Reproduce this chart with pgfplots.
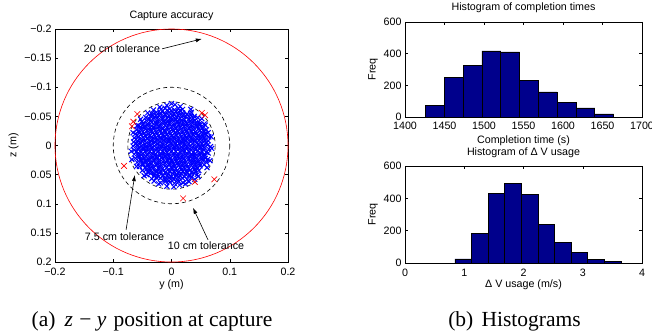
\documentclass[border=0pt]{standalone}
\usepackage{fontspec}
\setmainfont{Liberation Sans}
\newfontfamily\capfont{Liberation Serif}
\usepackage{pgfplots}
\pgfplotsset{compat=1.18}
\usetikzlibrary{arrows.meta}
\definecolor{histblue}{RGB}{0,0,140}
\newcommand{\pf}{\fontsize{10.7}{12}\selectfont}
\pgfplotsset{
  matstyle/.style={
    scale only axis,
    anchor=south west,
    axis line style={black, line width=0.9pt},
    tick align=inside,
    major tick length=3pt,
    tick style={black, line width=0.5pt},
    every tick label/.append style={font=\pf},
    label style={font=\pf},
    every axis title/.style={font=\pf, anchor=base},
    /pgf/number format/assume math mode=true,
    /pgf/number format/1000 sep={},
  }
}
\begin{document}
\begin{tikzpicture}
\path[use as bounding box] (0,0) rectangle (652pt,333pt);

% ---------------- left: capture accuracy ----------------
\begin{axis}[matstyle, at={(55pt,71pt)}, width=233pt, height=233pt,
  xmin=-0.2, xmax=0.2, ymin=-0.2, ymax=0.2, y dir=reverse, clip=false,
  xtick={-0.2,-0.1,0,0.1,0.2}, xticklabels={−0.2,−0.1,0,0.1,0.2},
  ytick={-0.2,-0.15,-0.1,-0.05,0,0.05,0.1,0.15,0.2},
  yticklabels={−0.2,−0.15,−0.1,−0.05,0,0.05,0.1,0.15,0.2},
  xticklabel style={anchor=base, yshift=-13.5pt},
  title={Capture accuracy}, title style={at={(axis description cs:0.5,1.043)}},
  xlabel={y (m)}, xlabel style={at={(axis description cs:0.5,-0.11)}, anchor=base},
  ylabel={z (m)}, ylabel style={at={(axis description cs:-0.178,0.5)}, anchor=center},
]
\addplot[only marks, mark=x, mark size=3.5pt, blue, mark options={line width=1pt}] coordinates {
(-0.018,-0.062) (-0.011,-0.064) (-0.003,-0.063) (0.005,-0.061) (0.012,-0.064) (0.019,-0.062)
(-0.008,-0.069) (0.006,-0.070) (0.015,-0.067) (-0.020,-0.066) (0.000,-0.072)
(-0.034,-0.055) (-0.026,-0.057) (-0.019,-0.056) (-0.011,-0.054) (-0.004,-0.057) (0.004,-0.055) (0.012,-0.058) (0.019,-0.056) (0.027,-0.054) (0.034,-0.057)
(-0.044,-0.048) (-0.036,-0.050) (-0.029,-0.049) (-0.021,-0.051) (-0.014,-0.047) (-0.006,-0.049) (0.002,-0.050) (0.009,-0.048) (0.017,-0.050) (0.024,-0.049) (0.032,-0.047) (0.039,-0.050) (0.045,-0.048)
(-0.051,-0.041) (-0.043,-0.043) (-0.036,-0.042) (-0.028,-0.040) (-0.021,-0.043) (-0.013,-0.041) (-0.006,-0.042) (0.002,-0.044) (0.010,-0.041) (0.017,-0.043) (0.025,-0.040) (0.032,-0.042) (0.040,-0.043) (0.047,-0.041)
(-0.056,-0.034) (-0.049,-0.036) (-0.041,-0.035) (-0.034,-0.033) (-0.026,-0.036) (-0.019,-0.034) (-0.011,-0.035) (-0.004,-0.037) (0.004,-0.034) (0.012,-0.036) (0.019,-0.035) (0.027,-0.033) (0.034,-0.036) (0.042,-0.034) (0.049,-0.035) (0.056,-0.037)
(-0.060,-0.027) (-0.052,-0.029) (-0.045,-0.028) (-0.037,-0.026) (-0.030,-0.029) (-0.022,-0.027) (-0.015,-0.028) (-0.007,-0.030) (0.001,-0.027) (0.008,-0.029) (0.016,-0.028) (0.023,-0.026) (0.031,-0.029) (0.038,-0.027) (0.046,-0.028) (0.053,-0.030) (0.060,-0.027)
(-0.062,-0.020) (-0.055,-0.022) (-0.047,-0.021) (-0.040,-0.019) (-0.032,-0.022) (-0.025,-0.020) (-0.017,-0.021) (-0.010,-0.023) (-0.002,-0.020) (0.006,-0.022) (0.013,-0.021) (0.021,-0.019) (0.028,-0.022) (0.036,-0.020) (0.043,-0.021) (0.051,-0.023) (0.058,-0.020) (0.063,-0.022)
(-0.064,-0.013) (-0.057,-0.015) (-0.049,-0.014) (-0.042,-0.012) (-0.034,-0.015) (-0.027,-0.013) (-0.019,-0.014) (-0.012,-0.016) (-0.004,-0.013) (0.004,-0.015) (0.011,-0.014) (0.019,-0.012) (0.026,-0.015) (0.034,-0.013) (0.041,-0.014) (0.049,-0.016) (0.056,-0.013) (0.064,-0.015)
(-0.065,-0.006) (-0.058,-0.008) (-0.050,-0.007) (-0.043,-0.005) (-0.035,-0.008) (-0.028,-0.006) (-0.020,-0.007) (-0.013,-0.009) (-0.005,-0.006) (0.003,-0.008) (0.010,-0.007) (0.018,-0.005) (0.025,-0.008) (0.033,-0.006) (0.040,-0.007) (0.048,-0.009) (0.055,-0.006) (0.063,-0.008)
(-0.066,0.001) (-0.059,-0.001) (-0.051,0.000) (-0.044,0.002) (-0.036,-0.001) (-0.029,0.001) (-0.021,0.000) (-0.014,-0.002) (-0.006,0.001) (0.002,-0.001) (0.009,0.000) (0.017,0.002) (0.024,-0.001) (0.032,0.001) (0.039,0.000) (0.047,-0.002) (0.054,0.001) (0.062,-0.001) (0.067,0.002)
(-0.064,0.008) (-0.057,0.006) (-0.049,0.007) (-0.042,0.009) (-0.034,0.006) (-0.027,0.008) (-0.019,0.007) (-0.012,0.005) (-0.004,0.008) (0.004,0.006) (0.011,0.007) (0.019,0.009) (0.026,0.006) (0.034,0.008) (0.041,0.007) (0.049,0.005) (0.056,0.008) (0.064,0.006)
(-0.064,0.015) (-0.057,0.013) (-0.049,0.014) (-0.042,0.016) (-0.034,0.013) (-0.027,0.015) (-0.019,0.014) (-0.012,0.012) (-0.004,0.015) (0.004,0.013) (0.011,0.014) (0.019,0.016) (0.026,0.013) (0.034,0.015) (0.041,0.014) (0.049,0.012) (0.056,0.015) (0.063,0.013)
(-0.062,0.022) (-0.055,0.020) (-0.047,0.021) (-0.040,0.023) (-0.032,0.020) (-0.025,0.022) (-0.017,0.021) (-0.010,0.019) (-0.002,0.022) (0.006,0.020) (0.013,0.021) (0.021,0.023) (0.028,0.020) (0.036,0.022) (0.043,0.021) (0.051,0.019) (0.058,0.022) (0.062,0.024)
(-0.059,0.029) (-0.052,0.027) (-0.045,0.028) (-0.037,0.030) (-0.030,0.027) (-0.022,0.029) (-0.015,0.028) (-0.007,0.026) (0.001,0.029) (0.008,0.027) (0.016,0.028) (0.023,0.030) (0.031,0.027) (0.038,0.029) (0.046,0.028) (0.053,0.026) (0.060,0.029)
(-0.055,0.036) (-0.049,0.034) (-0.041,0.035) (-0.034,0.037) (-0.026,0.034) (-0.019,0.036) (-0.011,0.035) (-0.004,0.033) (0.004,0.036) (0.012,0.034) (0.019,0.035) (0.027,0.037) (0.034,0.034) (0.042,0.036) (0.049,0.035) (0.056,0.033)
(-0.050,0.043) (-0.043,0.041) (-0.036,0.042) (-0.028,0.044) (-0.021,0.041) (-0.013,0.043) (-0.006,0.042) (0.002,0.040) (0.010,0.043) (0.017,0.041) (0.025,0.044) (0.032,0.042) (0.040,0.041) (0.047,0.043)
(-0.043,0.050) (-0.036,0.048) (-0.029,0.049) (-0.021,0.047) (-0.014,0.051) (-0.006,0.049) (0.002,0.048) (0.009,0.050) (0.017,0.048) (0.024,0.049) (0.032,0.051) (0.039,0.048) (0.044,0.050)
(-0.034,0.057) (-0.026,0.055) (-0.019,0.056) (-0.011,0.058) (-0.004,0.055) (0.004,0.057) (0.012,0.054) (0.019,0.056) (0.027,0.058) (0.034,0.055)
(-0.019,0.064) (-0.011,0.062) (-0.003,0.063) (0.005,0.065) (0.012,0.062) (0.020,0.064)
(-0.008,0.070) (0.004,0.071) (0.014,0.068) (0.024,0.066) (-0.022,0.066) (0.030,0.062) (-0.030,0.061)
(0.069,0.005) (0.068,-0.015) (-0.069,0.010) (-0.068,0.024) (-0.066,-0.022) (0.066,0.026) (0.061,0.038) (-0.060,0.036) (0.052,-0.046) (-0.053,-0.045) (0.046,0.053) (-0.047,0.052) (0.033,-0.062) (-0.031,-0.061) (0.040,0.058) (-0.041,-0.056) (0.058,-0.035) (-0.059,-0.034)
(-0.015,-0.0595) (-0.0075,-0.0605) (0,-0.0595) (0.0075,-0.0585) (0.015,-0.0595)
(-0.033,-0.0525) (-0.026,-0.0515) (-0.019,-0.0535) (-0.011,-0.0525) (-0.004,-0.0515) (0.004,-0.0535) (0.011,-0.0525) (0.019,-0.0515) (0.026,-0.0535) (0.033,-0.0525)
(-0.0375,-0.0455) (-0.030,-0.0465) (-0.0225,-0.0445) (-0.015,-0.0455) (-0.0075,-0.0465) (0,-0.0445) (0.0075,-0.0455) (0.015,-0.0465) (0.0225,-0.0445) (0.030,-0.0455) (0.0375,-0.0465)
(-0.048,-0.0385) (-0.041,-0.0375) (-0.034,-0.0395) (-0.026,-0.0385) (-0.019,-0.0375) (-0.011,-0.0395) (-0.004,-0.0385) (0.004,-0.0375) (0.011,-0.0395) (0.019,-0.0385) (0.026,-0.0375) (0.034,-0.0395) (0.041,-0.0385) (0.048,-0.0375)
(-0.0525,-0.0315) (-0.045,-0.0325) (-0.0375,-0.0305) (-0.030,-0.0315) (-0.0225,-0.0325) (-0.015,-0.0305) (-0.0075,-0.0315) (0,-0.0325) (0.0075,-0.0305) (0.015,-0.0315) (0.0225,-0.0325) (0.030,-0.0305) (0.0375,-0.0315) (0.045,-0.0325) (0.0525,-0.0305)
(-0.056,-0.0245) (-0.049,-0.0235) (-0.041,-0.0255) (-0.034,-0.0245) (-0.026,-0.0235) (-0.019,-0.0255) (-0.011,-0.0245) (-0.004,-0.0235) (0.004,-0.0255) (0.011,-0.0245) (0.019,-0.0235) (0.026,-0.0255) (0.034,-0.0245) (0.041,-0.0235) (0.049,-0.0255) (0.056,-0.0245)
(-0.059,-0.0175) (-0.0525,-0.0185) (-0.045,-0.0165) (-0.0375,-0.0175) (-0.030,-0.0185) (-0.0225,-0.0165) (-0.015,-0.0175) (-0.0075,-0.0185) (0,-0.0165) (0.0075,-0.0175) (0.015,-0.0185) (0.0225,-0.0165) (0.030,-0.0175) (0.0375,-0.0185) (0.045,-0.0165) (0.0525,-0.0175) (0.059,-0.0185)
(-0.056,-0.0105) (-0.049,-0.0095) (-0.041,-0.0115) (-0.034,-0.0105) (-0.026,-0.0095) (-0.019,-0.0115) (-0.011,-0.0105) (-0.004,-0.0095) (0.004,-0.0115) (0.011,-0.0105) (0.019,-0.0095) (0.026,-0.0115) (0.034,-0.0105) (0.041,-0.0095) (0.049,-0.0115) (0.056,-0.0105)
(-0.060,-0.0035) (-0.0525,-0.0045) (-0.045,-0.0025) (-0.0375,-0.0035) (-0.030,-0.0045) (-0.0225,-0.0025) (-0.015,-0.0035) (-0.0075,-0.0045) (0,-0.0025) (0.0075,-0.0035) (0.015,-0.0045) (0.0225,-0.0025) (0.030,-0.0035) (0.0375,-0.0045) (0.045,-0.0025) (0.0525,-0.0035) (0.060,-0.0045)
(-0.056,0.0035) (-0.049,0.0045) (-0.041,0.0025) (-0.034,0.0035) (-0.026,0.0045) (-0.019,0.0025) (-0.011,0.0035) (-0.004,0.0045) (0.004,0.0025) (0.011,0.0035) (0.019,0.0045) (0.026,0.0025) (0.034,0.0035) (0.041,0.0045) (0.049,0.0025) (0.056,0.0035)
(-0.060,0.0105) (-0.0525,0.0115) (-0.045,0.0095) (-0.0375,0.0105) (-0.030,0.0115) (-0.0225,0.0095) (-0.015,0.0105) (-0.0075,0.0115) (0,0.0095) (0.0075,0.0105) (0.015,0.0115) (0.0225,0.0095) (0.030,0.0105) (0.0375,0.0115) (0.045,0.0095) (0.0525,0.0105) (0.060,0.0115)
(-0.056,0.0175) (-0.049,0.0185) (-0.041,0.0165) (-0.034,0.0175) (-0.026,0.0185) (-0.019,0.0165) (-0.011,0.0175) (-0.004,0.0185) (0.004,0.0165) (0.011,0.0175) (0.019,0.0185) (0.026,0.0165) (0.034,0.0175) (0.041,0.0185) (0.049,0.0165) (0.056,0.0175)
(-0.0525,0.0245) (-0.045,0.0255) (-0.0375,0.0235) (-0.030,0.0245) (-0.0225,0.0255) (-0.015,0.0235) (-0.0075,0.0245) (0,0.0255) (0.0075,0.0235) (0.015,0.0245) (0.0225,0.0255) (0.030,0.0235) (0.0375,0.0245) (0.045,0.0255) (0.0525,0.0235)
(-0.049,0.0315) (-0.041,0.0325) (-0.034,0.0305) (-0.026,0.0315) (-0.019,0.0325) (-0.011,0.0305) (-0.004,0.0315) (0.004,0.0325) (0.011,0.0305) (0.019,0.0315) (0.026,0.0325) (0.034,0.0305) (0.041,0.0315) (0.049,0.0325)
(-0.045,0.0385) (-0.0375,0.0395) (-0.030,0.0375) (-0.0225,0.0385) (-0.015,0.0395) (-0.0075,0.0375) (0,0.0385) (0.0075,0.0395) (0.015,0.0375) (0.0225,0.0385) (0.030,0.0395) (0.0375,0.0375) (0.045,0.0385)
(-0.041,0.0455) (-0.034,0.0465) (-0.026,0.0445) (-0.019,0.0455) (-0.011,0.0465) (-0.004,0.0445) (0.004,0.0455) (0.011,0.0465) (0.019,0.0445) (0.026,0.0455) (0.034,0.0465) (0.041,0.0445)
(-0.030,0.0525) (-0.0225,0.0535) (-0.015,0.0515) (-0.0075,0.0525) (0,0.0535) (0.0075,0.0515) (0.015,0.0525) (0.0225,0.0535) (0.030,0.0515)
(-0.011,0.0595) (-0.004,0.0605) (0.004,0.0585) (0.011,0.0595)
};
\draw[red, line width=0.6pt] (axis cs:0,0) circle [radius=0.2];
\draw[black, line width=0.6pt, dash pattern=on 4pt off 3pt] (axis cs:0,0) circle [radius=0.075];
\draw[black, line width=0.6pt, dash pattern=on 4pt off 3pt] (axis cs:0,0) circle [radius=0.1];
\addplot[only marks, mark=x, mark size=4pt, red, mark options={line width=0.6pt}] coordinates {
(-0.0587,-0.054) (-0.0656,-0.041) (-0.068,-0.033) (0.052,-0.056) (0.0576,-0.052)
(-0.0815,0.035) (0.040,0.0626) (0.0735,0.058) (0.020,0.0907)
};
\draw[-{Latex[length=6pt,width=4pt]}, line width=0.6pt] (axis cs:-0.016,-0.166) -- (axis cs:0.052,-0.183);
\draw[-{Latex[length=6pt,width=4pt]}, line width=0.6pt] (axis cs:-0.078,0.145) -- (axis cs:-0.063,0.0507);
\draw[-{Latex[length=6pt,width=4pt]}, line width=0.6pt] (axis cs:0.0627,0.162) -- (axis cs:0.037,0.107);
\node[font=\pf, inner sep=0] at (axis cs:-0.085,-0.167) {20 cm tolerance};
\node[font=\pf, inner sep=0] at (axis cs:-0.0807,0.157) {7.5 cm tolerance};
\node[font=\pf, inner sep=0] at (axis cs:0.0593,0.1726) {10 cm tolerance};
\end{axis}

% ---------------- top right: completion times ----------------
\begin{axis}[matstyle, at={(405pt,216pt)}, width=237pt, height=95pt,
  xmin=1400, xmax=1700, ymin=0, ymax=600,
  xtick={1400,1450,1500,1550,1600,1650,1700}, ytick={0,200,400,600},
  xticklabel style={anchor=base, yshift=-12pt},
  title={Histogram of completion times}, title style={at={(axis description cs:0.5,1.116)}},
  xlabel={Completion time (s)}, xlabel style={at={(axis description cs:0.5,-0.274)}, anchor=base},
  ylabel={Freq}, ylabel style={at={(axis description cs:-0.135,0.5)}, anchor=center},
]
\addplot[ybar interval, draw=black, fill=histblue, line width=0.6pt] coordinates {
(1426,75) (1449.8,250) (1473.6,325) (1497.4,417) (1521.2,411) (1545,233)
(1568.8,159) (1592.6,92) (1616.4,57) (1640.2,19) (1664,0)
};
\end{axis}

% ---------------- bottom right: delta V ----------------
\begin{axis}[matstyle, at={(405pt,70pt)}, width=237pt, height=97pt,
  xmin=0, xmax=4, ymin=0, ymax=600,
  xtick={0,1,2,3,4}, ytick={0,200,400,600},
  xticklabel style={anchor=base, yshift=-13pt},
  title={Histogram of Δ V usage}, title style={at={(axis description cs:0.5,1.11)}},
  xlabel={Δ V usage (m/s)}, xlabel style={at={(axis description cs:0.5,-0.25)}, anchor=base},
  ylabel={Freq}, ylabel style={at={(axis description cs:-0.135,0.5)}, anchor=center},
]
\addplot[ybar interval, draw=black, fill=histblue, line width=0.6pt] coordinates {
(0.843,25) (1.123,183) (1.403,429) (1.683,493) (1.963,423) (2.243,237)
(2.523,128) (2.803,64) (3.083,23) (3.363,10) (3.643,0)
};
\end{axis}

% ---------------- captions ----------------
\node[anchor=base, inner sep=0, font=\capfont\fontsize{21.5}{25}\selectfont] at (152pt,7pt)
  {(a)\hspace{0.42em}\textit{z}\hspace{0.3em}−\hspace{0.25em}\textit{y}\hspace{0.33em}position at capture};
\node[anchor=base, inner sep=0, font=\capfont\fontsize{21.5}{25}\selectfont] at (514.5pt,7pt)
  {(b)\hspace{0.38em}Histograms};
\end{tikzpicture}
\end{document}
